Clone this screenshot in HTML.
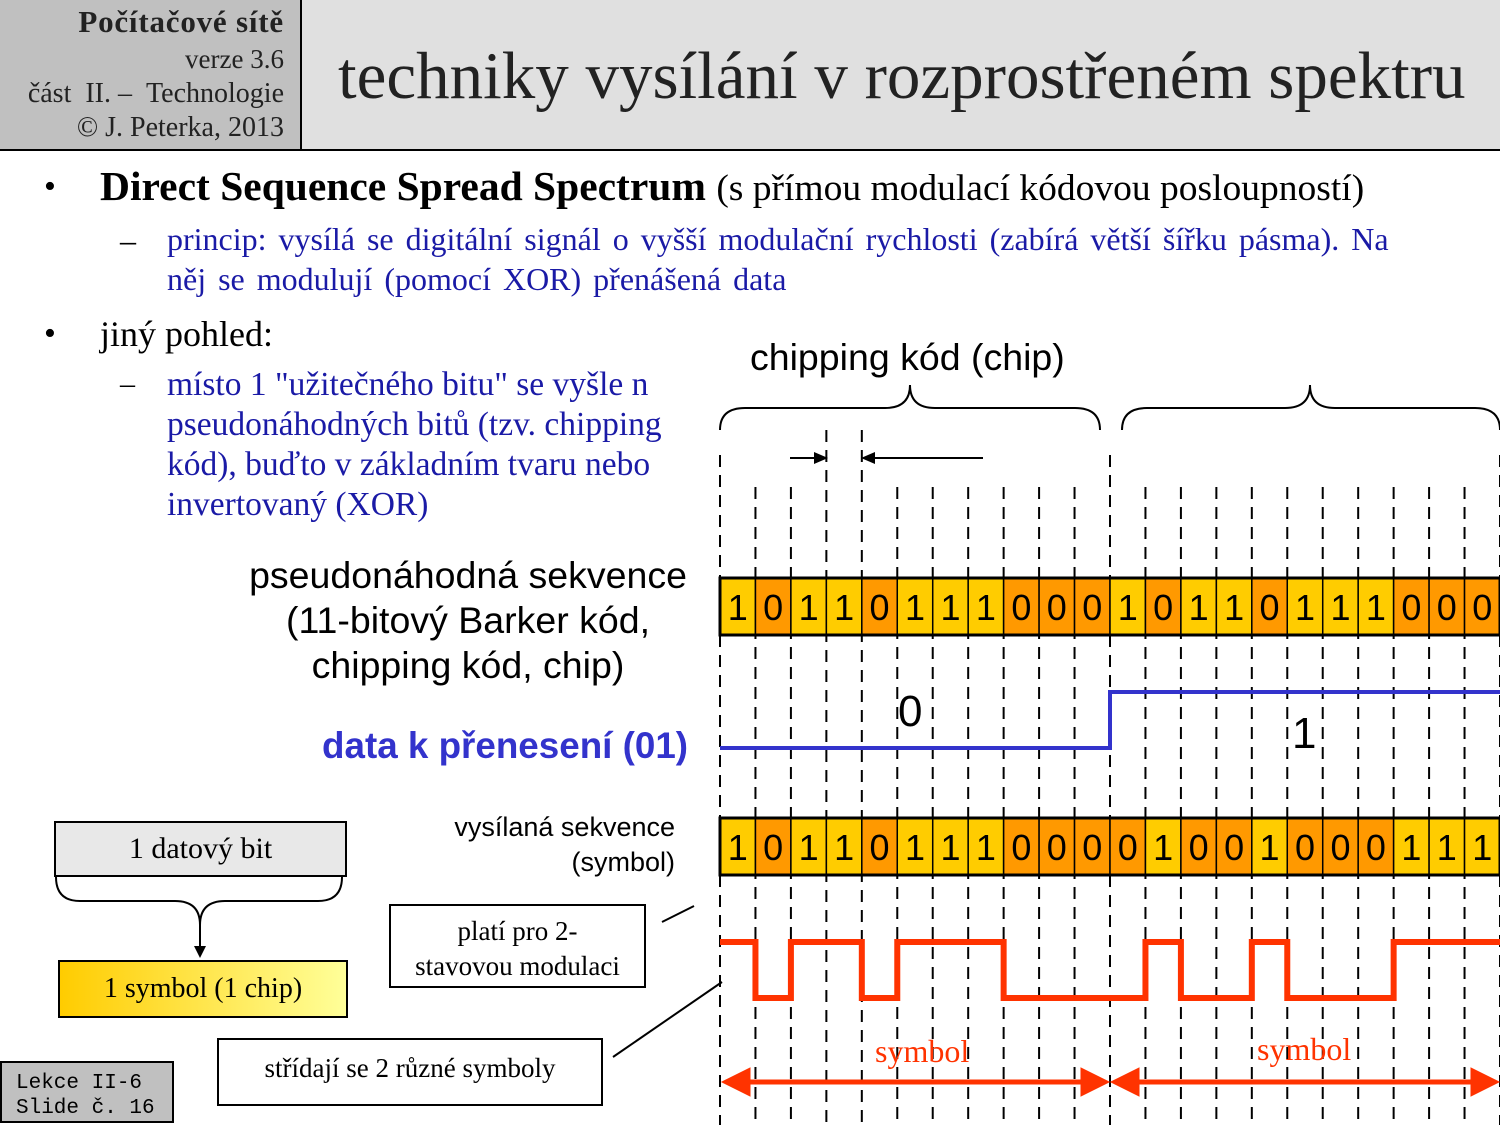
<!DOCTYPE html>
<html><head><meta charset="utf-8"><style>
body{margin:0;width:1500px;height:1125px;position:relative;background:#fff;overflow:hidden;font-family:"Liberation Serif",serif}
.a{position:absolute;white-space:nowrap}
.s{font-family:"Liberation Sans",sans-serif}
.b{color:#1a1aa6}
</style></head><body>
<div class="a" style="left:0;top:0;width:300px;height:149px;background:#c0c0c0;border-right:2px solid #000;border-bottom:2px solid #000"></div>
<div class="a" style="left:302px;top:0;width:1198px;height:149px;background:#e0e0e0;border-bottom:2px solid #000"></div>
<div class="a" style="right:1216px;top:4px;font-size:31px;letter-spacing:0.8px;font-weight:bold;color:#222">Počítačové sítě</div>
<div class="a" style="right:1216px;top:44px;font-size:27px;color:#222">verze 3.6</div>
<div class="a" style="right:1216px;top:78px;font-size:28px;color:#222">část&nbsp; II. – &nbsp;Technologie</div>
<div class="a" style="right:1216px;top:112px;font-size:28px;color:#222">© J. Peterka, 2013</div>
<div class="a" style="left:338px;top:38px;font-size:67px;color:#222">techniky vysílání v rozprostřeném spektru</div>

<div class="a" style="left:44px;top:168px;font-size:34px">•</div>
<div class="a" style="left:100px;top:162px;font-size:41.5px"><b>Direct Sequence Spread Spectrum</b> <span style="font-size:37.5px">(s přímou modulací kódovou posloupností)</span></div>
<div class="a" style="left:120px;top:222px;font-size:32px">–</div>
<div class="a b" style="left:167px;top:221px;font-size:32px;word-spacing:4px">princip: vysílá se digitální signál o vyšší modulační rychlosti (zabírá větší šířku pásma). Na</div>
<div class="a b" style="left:167px;top:261px;font-size:32px;word-spacing:4px">něj se modulují (pomocí XOR) přenášená data</div>
<div class="a" style="left:44px;top:315px;font-size:34px">•</div>
<div class="a" style="left:100px;top:313px;font-size:36px">jiný pohled:</div>
<div class="a" style="left:120px;top:367px;font-size:30px">–</div>
<div class="a b" style="left:167px;top:365px;font-size:33.5px;line-height:40px">místo 1 "užitečného bitu" se vyšle n<br>pseudonáhodných bitů (tzv. chipping<br>kód), buďto v základním tvaru nebo<br>invertovaný (XOR)</div>

<div class="a s" style="left:750px;top:336px;font-size:37.5px">chipping kód (chip)</div>
<div class="a s" style="left:240px;top:553px;width:456px;text-align:center;font-size:37.5px;line-height:45px">pseudonáhodná sekvence<br>(11-bitový Barker kód,<br>chipping kód, chip)</div>
<div class="a s" style="left:322px;top:725px;font-size:36.8px;font-weight:bold;color:#3333cc">data k přenesení (01)</div>
<div class="a s" style="left:400px;top:810px;width:275px;text-align:right;font-size:27px;line-height:35px">vysílaná sekvence<br>(symbol)</div>

<div class="a" style="left:54px;top:821px;width:289px;height:52px;background:#e8e8e8;border:2px solid #000;font-size:30px;text-align:center;line-height:52px">1 datový bit</div>
<div class="a" style="left:58px;top:960px;width:286px;height:54px;background:linear-gradient(90deg,#ffcc00,#ffff99);border:2px solid #000;font-size:28px;text-align:center;line-height:54px">1 symbol (1 chip)</div>
<div class="a" style="left:389px;top:904px;width:257px;height:84px;border:2px solid #000;font-size:27px;text-align:center;line-height:35px;padding-top:8px;box-sizing:border-box">platí pro 2-<br>stavovou modulaci</div>
<div class="a" style="left:217px;top:1038px;width:382px;height:64px;border:2px solid #000;font-size:27px;text-align:center;line-height:56px">střídají se 2 různé symboly</div>
<div class="a" style="left:0;top:1061px;width:174px;height:62px;background:#c0c0c0;border:2px solid #000;font-family:'Liberation Mono',monospace;font-size:21px;line-height:25px;padding:8px 0 0 14px;box-sizing:border-box">Lekce II-6<br>Slide č. 16</div>

<svg class="a" style="left:0;top:0" width="1500" height="1125">
<g id="dash" stroke="#000" stroke-width="2" stroke-dasharray="12,8" fill="none"></g>
<g id="cells"></g>
<g fill="none" stroke="#000" stroke-width="2">
<path d="M720,430 Q720,408 745,408 L885,408 Q910,408 910,385 Q910,408 935,408 L1075,408 Q1100,408 1100,430"/>
<path d="M1122,430 Q1122,408 1147,408 L1285,408 Q1310,408 1310,385 Q1310,408 1335,408 L1475,408 Q1500,408 1500,430"/>
<path d="M56,877 Q56,901 80,901 L175,901 Q200,901 200,925 Q200,901 225,901 L318,901 Q342,901 342,877"/>
<line x1="200" y1="925" x2="200" y2="948"/>
<line x1="790" y1="458" x2="820" y2="458"/><line x1="870" y1="458" x2="983" y2="458"/>
<line x1="662" y1="922" x2="694" y2="906"/><line x1="613" y1="1057" x2="722" y2="982"/>
</g>
<polygon points="194,946 206,946 200,958" fill="#000"/>
<polygon points="828,458 814,452 814,464" fill="#000"/><polygon points="861,458 875,452 875,464" fill="#000"/>
<polyline points="720,748 1110,748 1110,692 1500,692" fill="none" stroke="#3333cc" stroke-width="4"/>
<polyline id="wave" fill="none" stroke="#ff3300" stroke-width="6"/>
<g fill="#ff3300" stroke="#ff3300">
<line x1="735" y1="1082" x2="1095" y2="1082" stroke-width="5"/>
<line x1="1125" y1="1082" x2="1485" y2="1082" stroke-width="5"/>
<polygon points="722,1082 750,1068 750,1096"/><polygon points="1109,1082 1081,1068 1081,1096"/>
<polygon points="1111,1082 1139,1068 1139,1096"/><polygon points="1499,1082 1471,1068 1471,1096"/>
</g>
<text x="875" y="1062" font-family="Liberation Serif" font-size="32" fill="#ff3300">symbol</text>
<text x="1257" y="1060" font-family="Liberation Serif" font-size="32" fill="#ff3300">symbol</text>
<text x="898" y="726" font-family="Liberation Sans" font-size="44">0</text>
<text x="1292" y="748" font-family="Liberation Sans" font-size="44">1</text>
</svg>
<script>
(function(){
var ns="http://www.w3.org/2000/svg",w=780/22,d=document.getElementById('dash'),c=document.getElementById('cells');
var r1="1011011100010110111000",r2="1011011100001001000111";
function el(t,a,p){var e=document.createElementNS(ns,t);for(var k in a)e.setAttribute(k,a[k]);p.appendChild(e);return e;}
for(var i=0;i<=22;i++){var x=720+i*w;var ty=(i==0||i==11||i==22)?455:487;if(i==3||i==4)ty=430;el('line',{x1:x,y1:ty,x2:x,y2:1125},d);}
[[r1,578],[r2,818]].forEach(function(p){for(var i=0;i<22;i++){var x=720+i*w;el('rect',{x:x,y:p[1],width:w,height:57,fill:p[0][i]=='1'?'#ffcc00':'#ff9900',stroke:'#000','stroke-width':1.5},c);var t=el('text',{x:x+w/2,y:p[1]+42,'text-anchor':'middle','font-family':'Liberation Sans','font-size':36},c);t.textContent=p[0][i];}
el('rect',{x:720,y:p[1],width:780,height:57,fill:'none',stroke:'#000','stroke-width':3},c);});
var pts=[];for(var i=0;i<22;i++){var y=r2[i]=='1'?942:998;pts.push((720+i*w)+','+y,(720+(i+1)*w)+','+y);}
document.getElementById('wave').setAttribute('points',pts.join(' '));
})();
</script>
</body></html>
